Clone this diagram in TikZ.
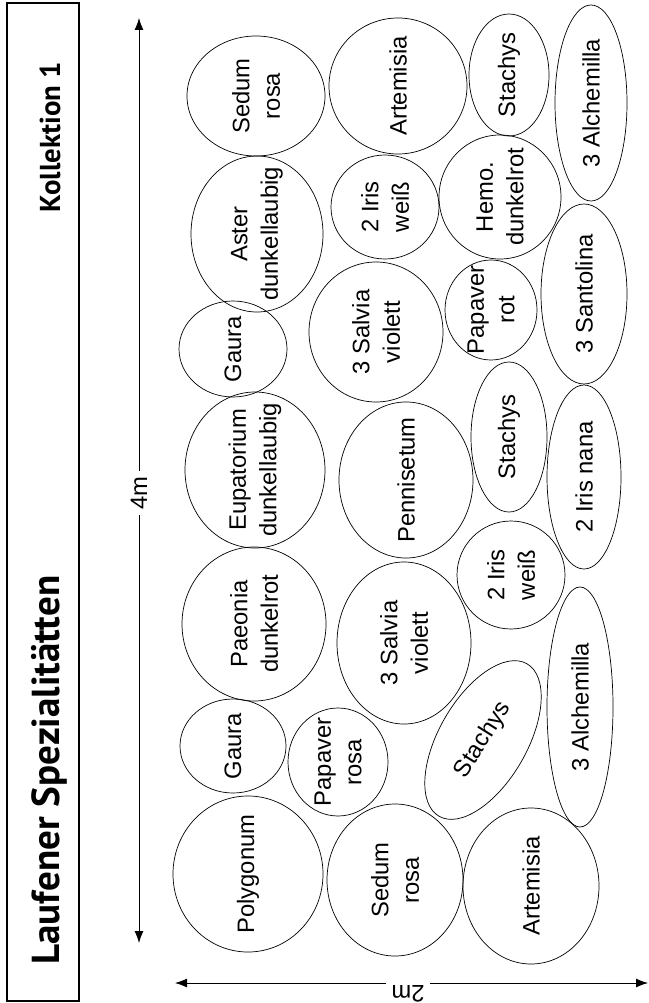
\documentclass[tikz,border=0pt]{standalone}
\usepackage{fontspec}
\setmainfont{Liberation Sans}
\newfontfamily\titelschrift{PT Sans}
\usetikzlibrary{arrows.meta}

\tikzset{
	pflanzenschrift/.style={align=center, inner sep=0pt, font=\fontsize{23.8}{30.5}\selectfont},
	pflanze/.style={pflanzenschrift, rotate=90},
	massband/.style={line width=0.8pt, {Latex[length=12pt,width=9pt]}-{Latex[length=12pt,width=9pt]}},
	masszahl/.style={fill=white, inner sep=5pt, font=\fontsize{23.8}{29}\selectfont},
}

\begin{document}
\begin{tikzpicture}[x=1pt, y=-1pt, line width=0.7pt]

		\useasboundingbox (0,0) rectangle (648,1003);

		% Titelleiste
		\draw[line width=2pt] (7,3) rectangle (79,1001);
		\node[rotate=90, anchor=base, font=\titelschrift\bfseries\fontsize{39}{42}\selectfont] (titel) at (59,770) {Laufener Spezialitätten};
		\node[rotate=90, anchor=base, font=\titelschrift\bfseries\fontsize{28.8}{32}\selectfont] (kollektion) at (60,137) {Kollektion 1};

		% Masse
		\coordinate (laengeoben) at (139,18);
		\coordinate (laengeunten) at (139,943);
		\draw[massband] (laengeunten) -- (laengeoben);
		\node[masszahl, rotate=90] (laenge) at (139,493) {4m};

		\coordinate (breitelinks) at (175,983);
		\coordinate (breiterechts) at (648,983);
		\draw[massband] (breitelinks) -- (breiterechts);
		\node[masszahl, rotate=180] (breite) at (408,994) {2m};

		% erste Reihe
		\draw (256,96) ellipse [x radius=69, y radius=60] node[pflanze] (sedumA) {Sedum\\ rosa};
		\draw (257,234) ellipse [x radius=66, y radius=78] node[pflanze] (aster) {Aster\\ dunkellaubig};
		\draw (233,349) ellipse [x radius=54, y radius=48] node[pflanze] (gauraA) {Gaura};
		\draw (255,470) ellipse [x radius=70, y radius=78] node[pflanze] (eupatorium) {Eupatorium\\ dunkellaubig};
		\draw (254,624) ellipse [x radius=72, y radius=77] node[pflanze] (paeonia) {Paeonia\\ dunkelrot};
		\draw (233,746) ellipse [x radius=53, y radius=47] node[pflanze] (gauraB) {Gaura};
		\draw (248,874) ellipse [x radius=75, y radius=78] node[pflanze] (polygonum) {Polygonum};

		% zweite Reihe
		\draw (398,86) ellipse [x radius=69, y radius=68] node[pflanze] (artemisiaA) {Artemisia};
		\draw (385,207) ellipse [x radius=54, y radius=52] node[pflanze] (irisA) {2 Iris\\ weiß};
		\draw (376,332) ellipse [x radius=67, y radius=70] node[pflanze] (salviaA) {3 Salvia\\ violett};
		\draw (406,480) ellipse [x radius=67, y radius=78] node[pflanze] (pennisetum) {Pennisetum};
		\draw (404,643) ellipse [x radius=67, y radius=81] node[pflanze] (salviaB) {3 Salvia\\ violett};
		\draw (338,762) ellipse [x radius=50, y radius=54] node[pflanze] (papaverA) {Papaver\\ rosa};
		\draw (395,880) ellipse [x radius=68, y radius=76] node[pflanze] (sedumB) {Sedum\\ rosa};

		% dritte Reihe
		\draw (509,75) ellipse [x radius=40, y radius=61] node[pflanze] (stachysA) {Stachys};
		\draw (500,197) ellipse [x radius=61, y radius=62] node[pflanze] (hemo) {Hemo.\\ dunkelrot};
		\draw (491,310) ellipse [x radius=46, y radius=50] node[pflanze] (papaverB) {Papaver\\ rot};
		\draw (509,437) ellipse [x radius=38, y radius=75] node[pflanze] (stachysB) {Stachys};
		\draw (511,575) ellipse [x radius=54, y radius=54] node[pflanze] (irisB) {2 Iris\\ weiß};
		\draw[rotate around={60:(483,740)}] (483,740) ellipse [x radius=88, y radius=44] node[pflanzenschrift, rotate=58] (stachysC) {Stachys};
		\draw (531,886) ellipse [x radius=68, y radius=78] node[pflanze] (artemisiaB) {Artemisia};

		% vierte Reihe
		\draw (591,103) ellipse [x radius=36, y radius=98] node[pflanze] (alchemillaA) {3 Alchemilla};
		\draw (584,294) ellipse [x radius=43, y radius=90] node[pflanze] (santolina) {3 Santolina};
		\draw (584,477) ellipse [x radius=37, y radius=92] node[pflanze] (irisnana) {2 Iris nana};
		\draw (580,707) ellipse [x radius=33, y radius=120] node[pflanze] (alchemillaB) {3 Alchemilla};

\end{tikzpicture}
\end{document}
